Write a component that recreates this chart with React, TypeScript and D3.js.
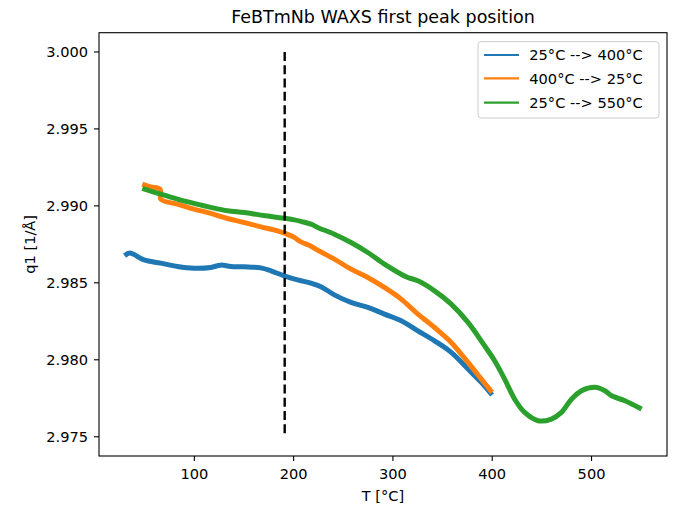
import React from "react";
import * as d3 from "d3";

const title = "FeBTmNb WAXS first peak position";
const xLabel = "T [°C]";
const yLabel = "q1 [1/Å]";
const xTicks = [100, 200, 300, 400, 500];
const yTicks = [2.975, 2.98, 2.985, 2.99, 2.995, 3.0];
const seriesNames = ["25°C --> 400°C", "400°C --> 25°C", "25°C --> 550°C"];
const seriesColors = ["#1f77b4", "#ff7f0e", "#2ca02c"];

const blueT = [29.8, 35.1, 49.2, 66.1, 83, 99.7, 116.5, 126.6, 136.7, 150.2, 167, 177.1, 190.5, 204, 217.5, 227.5, 241, 257.8, 274.7, 291.4, 308.3, 325.1, 341.9, 358.7, 375.6, 389, 399.8];
const blueQ = [2.98676, 2.98693, 2.98649, 2.98628, 2.98606, 2.98595, 2.986, 2.98615, 2.98606, 2.98604, 2.98597, 2.98578, 2.98545, 2.98519, 2.98498, 2.98475, 2.98422, 2.98373, 2.9834, 2.98297, 2.98253, 2.98188, 2.98123, 2.98048, 2.9794, 2.97853, 2.97771];

const orangeT = [47.6, 56, 65.5, 66.3, 83, 99.7, 116.5, 133.4, 150.2, 167, 183.9, 190.5, 200.6, 207.4, 217.5, 224.2, 241, 257.8, 274.7, 291.4, 308.3, 325.1, 341.9, 358.7, 375.6, 389, 399.8];
const orangeQ = [2.99141, 2.99123, 2.99108, 2.99043, 2.99011, 2.98979, 2.98951, 2.98918, 2.98892, 2.98864, 2.98838, 2.98823, 2.98795, 2.98766, 2.98738, 2.98712, 2.98654, 2.98589, 2.98535, 2.9847, 2.98394, 2.98297, 2.9821, 2.98113, 2.97983, 2.97875, 2.97788];

const greenT = [47.6, 66.1, 83, 99.7, 116.5, 133.4, 150.2, 167, 183.9, 200.6, 208, 217.5, 224.2, 241, 257.8, 274.7, 291.4, 308.3, 315, 325.1, 341.9, 358.7, 375.6, 392.3, 402.4, 412.5, 422.6, 432.7, 446.2, 459.6, 469.7, 479.8, 489.9, 503.3, 513.4, 520.2, 533.6, 550.4];
const greenQ = [2.99113, 2.99076, 2.99044, 2.99016, 2.9899, 2.98968, 2.98957, 2.9894, 2.98925, 2.98909, 2.98898, 2.98881, 2.9886, 2.98816, 2.98762, 2.98697, 2.98621, 2.98556, 2.98535, 2.98513, 2.98448, 2.98362, 2.98243, 2.98091, 2.97994, 2.97875, 2.97744, 2.97658, 2.97604, 2.97615, 2.97658, 2.97744, 2.97799, 2.97821, 2.97799, 2.97766, 2.97734, 2.9768];

const vlineT = 191;
const vlineQ = [2.975, 3.0];

const W = 673;
const H = 510;
const L = 99, R = 667, T = 32.7, B = 456;
const FONT = "DejaVu Sans, sans-serif";

export default function App() {
  const x = d3.scaleLinear().domain([4, 576]).range([L, R]);
  const y = d3.scaleLinear().domain([2.97375, 3.00125]).range([B, T]);
  const line = d3
    .line<[number, number]>()
    .x((d) => x(d[0]))
    .y((d) => y(d[1]))
    .curve(d3.curveCatmullRom.alpha(0.5));
  const series = [
    blueT.map((t, i) => [t, blueQ[i]] as [number, number]),
    orangeT.map((t, i) => [t, orangeQ[i]] as [number, number]),
    greenT.map((t, i) => [t, greenQ[i]] as [number, number]),
  ];
  const fmtY = d3.format(".3f");
  const legendX = 478, legendY = 41.7;
  const entryYs = [55, 78.3, 102.7];
  return (
    <svg
      width={W}
      height={H}
      style={{ position: "absolute", left: 0, top: 0, background: "#fff" }}
      fontFamily={FONT}
    >
      <rect x={0} y={0} width={W} height={H} fill="#fff" />
      {series.map((s, i) => (
        <path
          key={i}
          d={line(s) || ""}
          fill="none"
          stroke={seriesColors[i]}
          strokeWidth={5}
          strokeLinejoin="round"
          strokeLinecap="butt"
        />
      ))}
      <line
        x1={x(vlineT)}
        x2={x(vlineT)}
        y1={y(vlineQ[1])}
        y2={y(vlineQ[0])}
        stroke="#000"
        strokeWidth={2.4}
        strokeDasharray="9,4.3"
      />
      <rect x={L} y={T} width={R - L} height={B - T} fill="none" stroke="#000" strokeWidth={1.1} />
      {xTicks.map((t) => (
        <g key={t}>
          <line x1={x(t)} x2={x(t)} y1={B} y2={B + 5} stroke="#000" strokeWidth={1.1} />
          <text x={x(t)} y={B + 23} fontSize={14.6} textAnchor="middle" fill="#000">
            {t}
          </text>
        </g>
      ))}
      {yTicks.map((t) => (
        <g key={t}>
          <line x1={L - 5} x2={L} y1={y(t)} y2={y(t)} stroke="#000" strokeWidth={1.1} />
          <text x={L - 11} y={y(t) + 5.3} fontSize={14.6} textAnchor="end" fill="#000">
            {fmtY(t)}
          </text>
        </g>
      ))}
      <text x={(L + R) / 2} y={501} fontSize={14.6} textAnchor="middle" fill="#000">
        {xLabel}
      </text>
      <text
        transform={`translate(${35},${(T + B) / 2}) rotate(-90)`}
        fontSize={14.6}
        textAnchor="middle"
        fill="#000"
      >
        {yLabel}
      </text>
      <text x={(L + R) / 2} y={23} fontSize={17.5} textAnchor="middle" fill="#000">
        {title}
      </text>
      <rect
        x={legendX}
        y={legendY}
        width={181}
        height={76.3}
        rx={3}
        fill="#fff"
        fillOpacity={0.8}
        stroke="#ccc"
        strokeWidth={1}
      />
      {seriesNames.map((n, i) => (
        <g key={n}>
          <line x1={484} x2={519} y1={entryYs[i]} y2={entryYs[i]} stroke={seriesColors[i]} strokeWidth={2.2} />
          <text x={529.3} y={entryYs[i] + 5.2} fontSize={14.6} fill="#000">
            {n}
          </text>
        </g>
      ))}
    </svg>
  );
}
